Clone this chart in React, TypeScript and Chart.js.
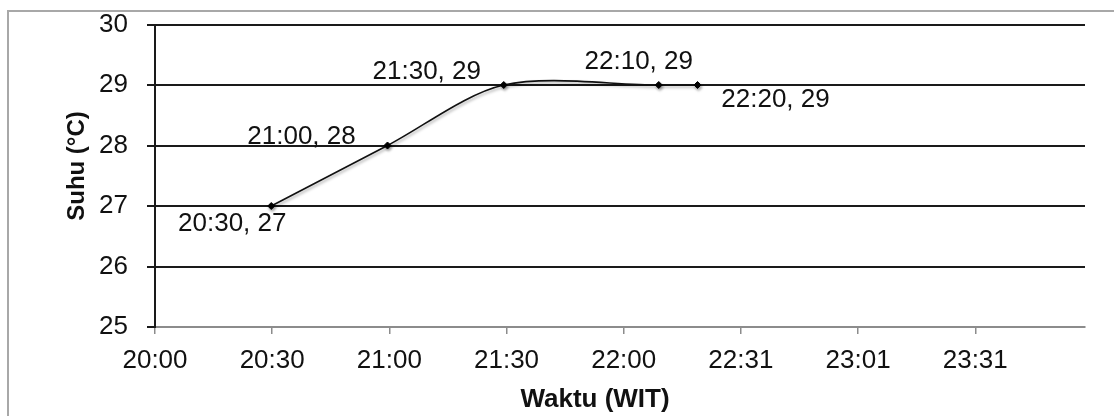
import React, { useEffect, useRef } from 'react';
import { Chart, registerables } from 'chart.js';

Chart.register(...registerables);

// ---- data ----
const timeMinutes = [1230, 1260, 1290, 1330, 1340];
const timeLabels = ['20:30', '21:00', '21:30', '22:10', '22:20'];
const temperatures = [27, 28, 29, 29, 29];
const xTickLabels = ['20:00', '20:30', '21:00', '21:30', '22:00', '22:31', '23:01', '23:31'];
const xMin = 1200;
const xMax = 1440;
const xStep = 30.24;
const yMin = 25;
const yMax = 30;

// label placement (offset from point, px)
const labelOffsets: [number, number][] = [
  [-39, 18],
  [-86, -9],
  [-77, -13],
  [-20, -23],
  [78, 15],
];

const FONT = '"Liberation Sans", Arial, sans-serif';

const shadowPlugin = {
  id: 'lineShadow',
  beforeDatasetDraw(chart: any) {
    const ctx = chart.ctx;
    ctx.save();
    ctx.shadowColor = 'rgba(0,0,0,0.35)';
    ctx.shadowBlur = 3;
    ctx.shadowOffsetX = 1;
    ctx.shadowOffsetY = 2;
  },
  afterDatasetDraw(chart: any) {
    chart.ctx.restore();
  },
};

const labelsPlugin = {
  id: 'pointLabels',
  afterDatasetsDraw(chart: any) {
    const ctx = chart.ctx;
    const meta = chart.getDatasetMeta(0);
    ctx.save();
    ctx.font = `26px ${FONT}`;
    ctx.fillStyle = '#111';
    ctx.textAlign = 'center';
    ctx.textBaseline = 'middle';
    meta.data.forEach((pt: any, i: number) => {
      const [dx, dy] = labelOffsets[i];
      ctx.fillText(`${timeLabels[i]}, ${temperatures[i]}`, pt.x + dx, pt.y + dy);
    });
    ctx.restore();
  },
};

const titlesPlugin = {
  id: 'axisTitles',
  afterDraw(chart: any) {
    const ctx = chart.ctx;
    ctx.save();
    ctx.fillStyle = '#111';
    ctx.textAlign = 'center';
    ctx.textBaseline = 'middle';
    ctx.font = `bold 26px ${FONT}`;
    ctx.fillText('Waktu (WIT)', 595, 400);
    ctx.translate(77, 166);
    ctx.rotate(-Math.PI / 2);
    ctx.font = `bold 24px ${FONT}`;
    ctx.fillText('Suhu (°C)', 0, 0);
    ctx.restore();
  },
};

export default function App() {
  const ref = useRef<HTMLCanvasElement | null>(null);

  useEffect(() => {
    if (!ref.current) return;
    const chart = new Chart(ref.current, {
      type: 'line',
      data: {
        datasets: [
          {
            data: timeMinutes.map((t, i) => ({ x: t, y: temperatures[i] })),
            borderColor: '#111',
            borderWidth: 1.6,
            tension: 0.3,
            pointStyle: 'rectRot',
            pointRadius: 3.5,
            pointBackgroundColor: '#000',
            pointBorderColor: '#000',
            pointBorderWidth: 1,
            fill: false,
          },
        ],
      },
      options: {
        animation: false,
        responsive: true,
        maintainAspectRatio: false,
        layout: { padding: { top: 24.5, right: 29, left: 0, bottom: 0 } },
        plugins: {
          legend: { display: false },
          tooltip: { enabled: false },
        },
        scales: {
          x: {
            type: 'linear',
            min: xMin,
            max: xMax,
            afterBuildTicks: (s: any) => {
              s.ticks = xTickLabels.map((_, i) => ({ value: xMin + i * xStep }));
            },
            ticks: {
              callback: (_v: any, i: number) => xTickLabels[i],
              font: { family: FONT, size: 26 },
              color: '#111',
              padding: 11,
              maxRotation: 0,
              autoSkip: false,
            },
            grid: {
              drawOnChartArea: false,
              drawTicks: true,
              tickLength: 7,
              color: '#8c8c8c',
              lineWidth: 1.5,
            },
            border: { color: '#8c8c8c', width: 2 },
            afterFit: (s: any) => {
              s.height = 89;
              s.paddingLeft = 0;
              s.paddingRight = 0;
            },
          },
          y: {
            min: yMin,
            max: yMax,
            ticks: {
              stepSize: 1,
              padding: 19,
              font: { family: FONT, size: 26 },
              color: '#111',
            },
            grid: {
              color: (c: any) => (c.tick && c.tick.value === yMin ? 'rgba(0,0,0,0)' : '#1a1a1a'),
              tickColor: '#1a1a1a',
              lineWidth: 2,
              tickLength: 8,
            },
            border: { color: '#1a1a1a', width: 2 },
            afterFit: (s: any) => {
              s.width = 155;
              s.paddingTop = 0;
              s.paddingBottom = 0;
            },
          },
        },
      },
      plugins: [shadowPlugin, labelsPlugin, titlesPlugin],
    } as any);
    return () => chart.destroy();
  }, []);

  return (
    <div
      style={{
        position: 'fixed',
        left: 0,
        top: 0,
        width: 1114,
        height: 416,
        overflow: 'hidden',
        background: '#fff',
      }}
    >
      <div
        style={{
          position: 'absolute',
          left: 7,
          top: 10,
          width: 1200,
          height: 500,
          border: '2px solid #a8a8a8',
        }}
      />
      <canvas ref={ref} style={{ position: 'absolute', left: 0, top: 0 }} />
    </div>
  );
}
